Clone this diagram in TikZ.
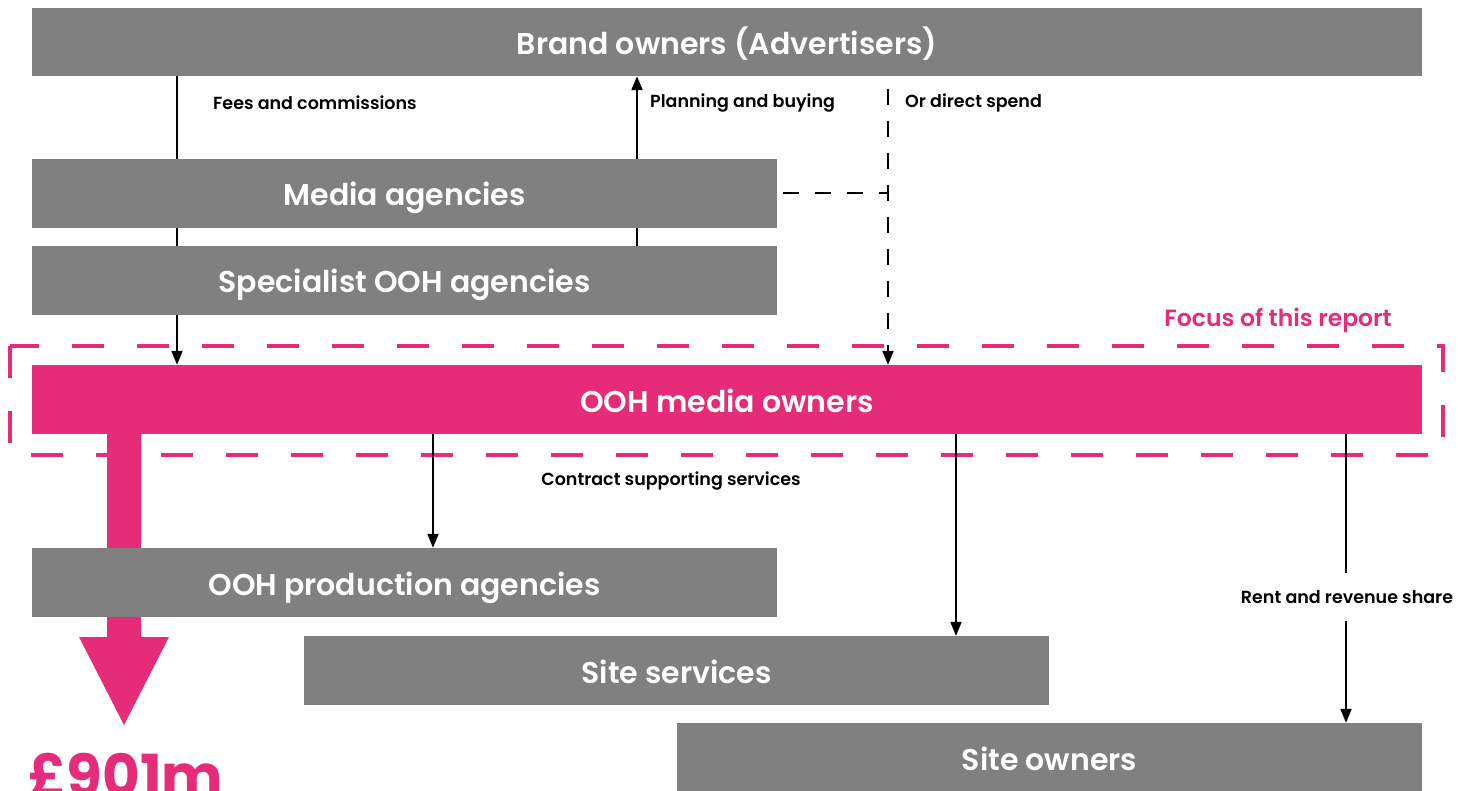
\documentclass[tikz,border=0pt]{standalone}
\usepackage{fontspec}
\setmainfont{Poppins}[BoldFont={Poppins SemiBold}]
\newfontfamily\totalfont{Poppins Bold}
\usetikzlibrary{calc,arrows.meta,backgrounds}
\definecolor{oohpink}{HTML}{E62C78}
\definecolor{oohgrey}{HTML}{808080}

\begin{document}
\begin{tikzpicture}[x=1pt,y=-1pt,
    box/.style={fill=oohgrey, text=white, inner sep=0pt, minimum height=69,
        text height=25pt, text depth=0pt,
        font=\bfseries\fontsize{30}{34}\selectfont},
    lbl/.style={inner sep=0pt, font=\bfseries\fontsize{17.5}{20}\selectfont},
    flow/.style={line width=2pt, -{Triangle[length=14pt,width=11pt]}},
    spendline/.style={line width=2pt, dash pattern=on 16pt off 16pt}]

    \useasboundingbox (0,0) rectangle (1458,791);

    \node[box, minimum width=1390, minimum height=68] (brand) at (727,42) {Brand owners (Advertisers)};
    \node[box, minimum width=745] (media) at (404.5,193.5) {Media agencies};
    \node[box, minimum width=745] (spec) at (404.5,280.5) {Specialist OOH agencies};
    \node[box, fill=oohpink, minimum width=1390] (ooh) at (727,399.5) {OOH media owners};
    \node[box, minimum width=745] (prod) at (404.5,582.5) {OOH production agencies};
    \node[box, minimum width=745] (sites) at (676.5,670.5) {Site services};
    \node[box, minimum width=745] (owners) at (1049.5,757.5) {Site owners};

    \coordinate (xfee) at (177,0);
    \coordinate (xplan) at (637,0);
    \coordinate (xspend) at (888,0);
    \coordinate (xprod) at (433,0);
    \coordinate (xsite) at (956,0);
    \coordinate (xrent) at (1346,0);
    \coordinate (spendtop) at (888,89);

    \node[lbl, anchor=west] (fees) at (213,103) {Fees and commissions};
    \node[lbl, anchor=west] (plan) at (650,103) {Planning and buying};
    \node[lbl, anchor=west] (spend) at (905,103) {Or direct spend};
    \node[lbl] (contract) at (671,481) {Contract supporting services};
    \node[lbl, minimum height=48] (rent) at (1347,597) {Rent and revenue share};
    \node[lbl, text=oohpink, anchor=east, font=\bfseries\fontsize{23.5}{26}\selectfont] (focus) at (1392,320) {Focus of this report};
    \node[inner sep=0pt, text=oohpink, anchor=base west, font=\totalfont\fontsize{58}{60}\selectfont] (total) at (28,796) {£901m};

    \begin{scope}[on background layer]
        \draw[oohpink, line width=4.5pt, dash pattern=on 32pt off 33pt] (10,346) rectangle (1443,455);
        \fill[oohpink] (107,434) -- (141,434) -- (141,637) -- (169,637)
            -- (124,725) -- (79,637) -- (107,637) -- cycle;

        \draw[flow] (xfee |- brand.south) -- (xfee |- ooh.north);
        \draw[flow] (xplan |- spec.north) -- (xplan |- brand.south);
        \draw[flow, spendline] (spendtop) -- (xspend |- ooh.north);
        \draw[spendline] (media.east) ++(6,0) -- (xspend |- media.east);
        \draw[flow] (xprod |- ooh.south) -- (xprod |- prod.north);
        \draw[flow] (xsite |- ooh.south) -- (xsite |- sites.north);
        \draw[line width=2pt] (xrent |- ooh.south) -- (xrent |- rent.north);
        \draw[flow] (xrent |- rent.south) -- (xrent |- owners.north);
    \end{scope}

\end{tikzpicture}
\end{document}
